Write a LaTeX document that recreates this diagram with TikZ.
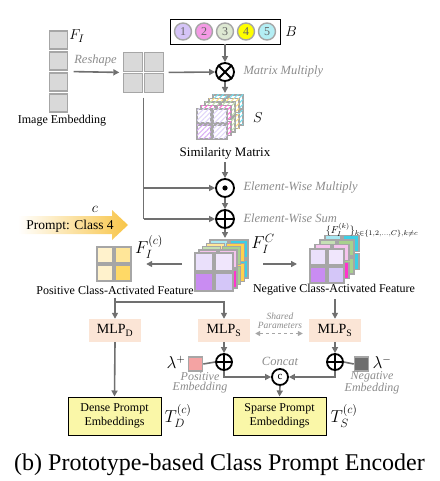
\documentclass[tikz,border=0pt]{standalone}
\usepackage{fontspec}
\setmainfont{Liberation Serif}
\usepackage{amsmath,amssymb}
\usepackage{tikz}
\usetikzlibrary{arrows.meta,patterns.meta,calc}

\definecolor{arrowgray}{HTML}{707070}
\definecolor{cellgray}{HTML}{D9D9D9}
\definecolor{edgegray}{HTML}{A6A6A6}
\definecolor{notegray}{HTML}{8C8C8C}
\definecolor{mlpfill}{HTML}{FBE5D6}
\definecolor{embfill}{HTML}{FAF7A8}
\definecolor{promptgold}{HTML}{F8C548}
% prototype colours
\definecolor{protoA}{HTML}{D5C4F7}
\definecolor{protoB}{HTML}{F49AE5}
\definecolor{protoC}{HTML}{DDE8D2}
\definecolor{protoD}{HTML}{FFFF00}
\definecolor{protoE}{HTML}{B4EEF4}
% feature colours
\definecolor{purA}{HTML}{EAE0FB}
\definecolor{purB}{HTML}{F0E6FC}
\definecolor{purC}{HTML}{C98CF2}
\definecolor{purD}{HTML}{D4C6F8}
\definecolor{pinA}{HTML}{F6C3EE}
\definecolor{pinB}{HTML}{FF33CC}
\definecolor{greA}{HTML}{C5E0B4}
\definecolor{greB}{HTML}{A9D18E}
\definecolor{yelA}{HTML}{FFE699}
\definecolor{yelB}{HTML}{FFD24D}
\definecolor{cyaA}{HTML}{A8E8F2}
\definecolor{cyaB}{HTML}{3CCFE6}
\definecolor{posA}{HTML}{FFF2CC}
\definecolor{posB}{HTML}{FFE699}
\definecolor{posC}{HTML}{FFD966}
\definecolor{possq}{HTML}{F4A3A3}
\definecolor{negsq}{HTML}{6E6E6E}

\tikzset{
  flow/.style={draw=arrowgray, line width=1.6pt, -{Triangle[length=6pt,width=6pt]}},
  link/.style={draw=arrowgray, line width=1.6pt},
  cell/.style={draw=edgegray, line width=1.6pt},
  cellnode/.style={cell, fill=cellgray, minimum size=#1, inner sep=0pt},
  hatch/.style={fill=white, postaction={pattern={Lines[angle=45,distance=3.5pt,line width=1pt]}, pattern color=#1!70}},
  solid/.style={fill=#1},
  op/.style={circle, draw=black, line width=1.8pt, minimum size=#1, inner sep=0pt},
  proto/.style={circle, draw=edgegray, line width=1.4pt, fill=#1, minimum size=17pt, inner sep=0pt,
    text=black!60, font=\fontsize{12}{12}\selectfont},
  note/.style={font=\itshape\fontsize{12.5}{13}\selectfont, text=notegray},
  smallnote/.style={font=\itshape\fontsize{12}{10.5}\selectfont, text=notegray, align=center},
  caption/.style={font=\fontsize{12}{14}\selectfont},
  sym/.style={font=\fontsize{#1}{#1}\selectfont, inner sep=0pt},
  mlpbox/.style={fill=mlpfill, minimum width=52pt, minimum height=23pt, inner sep=0pt, font=\fontsize{14}{16}\selectfont},
  embbox/.style={draw=black, line width=1pt, fill=embfill, minimum width=93pt, minimum height=38pt,
    inner sep=0pt, align=center, font=\fontsize{12}{14}\selectfont},
}

% one 2x2 layer of a feature stack: x, y, pitch, size, cell style, then the four colours
\newcommand{\stacklayer}[9]{%
  \draw[cell,#5=#6] (#1,#2) rectangle ++(#4,#4);
  \draw[cell,#5=#7] ($(#1,#2)+(#3,0)$) rectangle ++(#4,#4);
  \draw[cell,#5=#8] ($(#1,#2)+(0,#3)$) rectangle ++(#4,#4);
  \draw[cell,#5=#9] ($(#1,#2)+(#3,#3)$) rectangle ++(#4,#4);
}

\begin{document}
\begin{tikzpicture}[x=1pt,y=-1pt]
\useasboundingbox (0,0) rectangle (439,481);

% image embedding
\foreach \i in {0,...,3}
  \node[cellnode=18pt] (col\i) at (58.5,40+21*\i) {};
\node (colF) [inner sep=0pt, minimum width=18pt, minimum height=81pt] at (58.5,71.5) {};
\node[sym=15] (fi) at (77,36) {$F_I$};
\node[caption] (imgtxt) at (62,121) {Image Embedding};

% reshaped grid
\node[cellnode=19pt] (g1) at (133,62) {};
\node[cellnode=19pt] (g2) at (154,62) {};
\node[cellnode=19pt] (g3) at (133,83) {};
\node[cellnode=19pt] (g4) at (154,83) {};
\node (grid) [inner sep=0pt, minimum size=40pt] at (143.5,72.5) {};
\draw[flow, shorten <=6pt, shorten >=4pt] (colF.east) -- (grid.west)
  node[midway, above=2pt, note] (reshape) {Reshape};

% prototypes
\node (bank) [draw=black, line width=0.8pt, fill=white, minimum width=110pt, minimum height=25pt] at (225,31.5) {};
\node[proto=protoA] (p1) at (183,31.5) {1};
\node[proto=protoB] (p2) at (204,31.5) {2};
\node[proto=protoC] (p3) at (225,31.5) {3};
\node[proto=protoD] (p4) at (246,31.5) {4};
\node[proto=protoE] (p5) at (267,31.5) {5};
\node[sym=15] (blab) at (291,32) {$B$};

% matrix multiply
\node[op=18pt] (mm) at (225,72) {};
\draw[line width=1.8pt] (mm.45) -- (mm.225) (mm.135) -- (mm.315);
\node[note, anchor=west] (mmtxt) at (240,72) {Matrix Multiply};
\draw[flow] (bank.south) -- (mm.north);
\draw[flow, shorten <=5pt] (grid.east) -- (mm.west);

% similarity stack
\foreach \k/\a/\b/\c/\d in {4/cyaB/cyaB/cyaB/cyaB, 3/yelB/yelB/yelB/yelB,
    2/greB/greB/greB/greB, 1/pinB/pinB/pinB/pinB, 0/purD/purD/purC/purD}
  \stacklayer{197+4*\k}{109-3.5*\k}{16}{14}{hatch}{\a}{\b}{\c}{\d}
\coordinate (simtop) at (225,93);
\draw[flow] (mm.south) -- (simtop);
\node[sym=15] (slab) at (258,118) {$S$};
\node[caption, font=\fontsize{13}{14}\selectfont] (simtxt) at (225,153) {Similarity Matrix};

% element-wise multiply and sum
\node[op=18pt] (dot) at (225,188) {};
\fill (dot.center) circle (2.6);
\node[op=18pt] (sum) at (225,219) {};
\draw[line width=1.8pt] (sum.north) -- (sum.south) (sum.west) -- (sum.east);
\node[note, anchor=west] (dottxt) at (240,188) {Element-Wise Multiply};
\node[note, anchor=west] (sumtxt) at (240,218) {Element-Wise Sum};
\draw[flow] (simtxt.south) -- (dot.north);
\draw[flow] (dot.south) -- (sum.north);
\draw[link, shorten <=5pt] (grid.south) -- (grid.south |- sum.west);
\draw[flow] (grid.south |- dot.west) -- (dot.west);
\draw[flow] (grid.south |- sum.west) -- (sum.west);

% class prompt
\path[left color=white, right color=promptgold]
  (18,216) -- (112,216) -- (112,210) -- (128,225) -- (112,240) -- (112,234) -- (18,234) -- cycle;
\node[font=\fontsize{13.5}{14}\selectfont] (prompt) at (70,226) {Prompt: Class 4};
\node[sym=15] (clab) at (95,209) {$c$};

% class-activated feature stack
\foreach \k/\a/\b/\c/\d in {4/cyaA/cyaB/cyaA/cyaB, 3/yelA/yelB/yelA/yelB,
    2/greA/greB/greA/greB, 1/pinA/pinA/pinA/pinB, 0/purA/purB/purC/purD}
  \stacklayer{195+3.8*\k}{253-3.2*\k}{20}{18}{solid}{\a}{\b}{\c}{\d}
\coordinate (fctop) at (225,238);
\draw[flow] (sum.south) -- (fctop);
\node[sym=17] (fclab) at (263,244) {$F_I^C$};

% positive feature
\draw[cell, fill=posA] (97,247) rectangle ++(16,16);
\draw[cell, fill=posB] (115,247) rectangle ++(16,16);
\draw[cell, fill=posA] (97,265) rectangle ++(16,16);
\draw[cell, fill=posC] (115,265) rectangle ++(16,16);
\node (posgrid) [inner sep=0pt, minimum size=34pt] at (114,264) {};
\node[sym=18] (fplab) at (149,247) {$F_I^{(c)}$};
\coordinate (fcleft) at (182,264);
\draw[flow, shorten >=15pt] (fcleft) -- (posgrid.east);
\node[caption] (postxt) at (115,290) {Positive Class-Activated Feature};

% negative feature stack
\foreach \k/\a/\b/\c/\d in {3/cyaA/cyaB/cyaA/cyaB, 2/greA/greB/greA/greB,
    1/pinA/pinA/pinA/pinB, 0/purA/purB/purC/purD}
  \stacklayer{310+5*\k}{249-4.5*\k}{18}{16}{solid}{\a}{\b}{\c}{\d}
\coordinate (fcright) at (263,264);
\coordinate (negleft) at (297,264);
\draw[flow] (fcright) -- (negleft);
\node[sym=10] (fnlab) at (372,230) {$\{F_I^{(k)}\}_{k\in\{1,2,\ldots,C\},k\neq c}$};
\node[caption] (negtxt) at (334,290) {Negative Class-Activated Feature};

% MLPs
\node[mlpbox] (mlpd) at (115,330.5) {MLP\textsubscript{D}};
\node[mlpbox] (mlpsl) at (224,330.5) {MLP\textsubscript{S}};
\node[mlpbox] (mlpsr) at (335,330.5) {MLP\textsubscript{S}};
\coordinate (fork) at (115,302);
\draw[flow] (postxt.south) -- (mlpd.north);
\draw[flow] (fork) -| (mlpsl.north);
\draw[flow] (negtxt.south -| mlpsr.north) -- (mlpsr.north);
\draw[draw=edgegray, line width=1.2pt, dashed, {Triangle[length=5pt,width=5pt]}-{Triangle[length=5pt,width=5pt]}]
  ([xshift=5pt,yshift=-3pt]mlpsl.east) -- ([xshift=-6pt,yshift=-3pt]mlpsr.west);
\node[font=\itshape\fontsize{9.5}{9}\selectfont, text=notegray, align=center] (shared) at (280,321) {Shared\\Parameters};

% class embeddings
\node[op=16pt] (pl) at (224,362) {};
\draw[line width=1.8pt] (pl.north) -- (pl.south) (pl.west) -- (pl.east);
\node[op=16pt] (pr) at (335,362) {};
\draw[line width=1.8pt] (pr.north) -- (pr.south) (pr.west) -- (pr.east);
\draw[flow] (mlpsl.south) -- (pl.north);
\draw[flow] (mlpsr.south) -- (pr.north);
\node[cell, fill=possq, minimum size=14pt, inner sep=0pt] (possq) at (195.5,364) {};
\node[cell, fill=negsq, minimum size=14pt, inner sep=0pt] (negsq) at (361.5,364) {};
\draw[link] (possq.east) -- (pl.west);
\draw[link] (pr.east) -- (negsq.west);
\node[sym=16] (lp) at (176,362) {$\lambda^+$};
\node[sym=16] (ln) at (382,362) {$\lambda^-$};
\node[smallnote] (postag) at (200,383) {Positive\\Embedding};
\node[smallnote] (negtag) at (372,383) {Negative\\Embedding};

% concat
\node[op=16pt, font=\fontsize{11}{11}\selectfont] (cc) at (280,377) {c};
\node[note] (cctxt) at (280,361) {Concat};
\draw[flow] (pl.south) |- (cc.west);
\draw[flow] (pr.south) |- (cc.east);

% outputs
\node[embbox] (dense) at (114.5,416) {Dense Prompt\\Embeddings};
\node[embbox] (sparse) at (279.5,416) {Sparse Prompt\\Embeddings};
\draw[flow] (mlpd.south) -- (dense.north);
\draw[flow] (cc.south) -- (sparse.north);
\node[sym=18] (tdlab) at (178,416) {$T_D^{(c)}$};
\node[sym=18] (tslab) at (344,416) {$T_S^{(c)}$};

\node[font=\fontsize{24}{26}\selectfont] (title) at (219.5,465) {(b) Prototype-based Class Prompt Encoder};
\end{tikzpicture}
\end{document}
